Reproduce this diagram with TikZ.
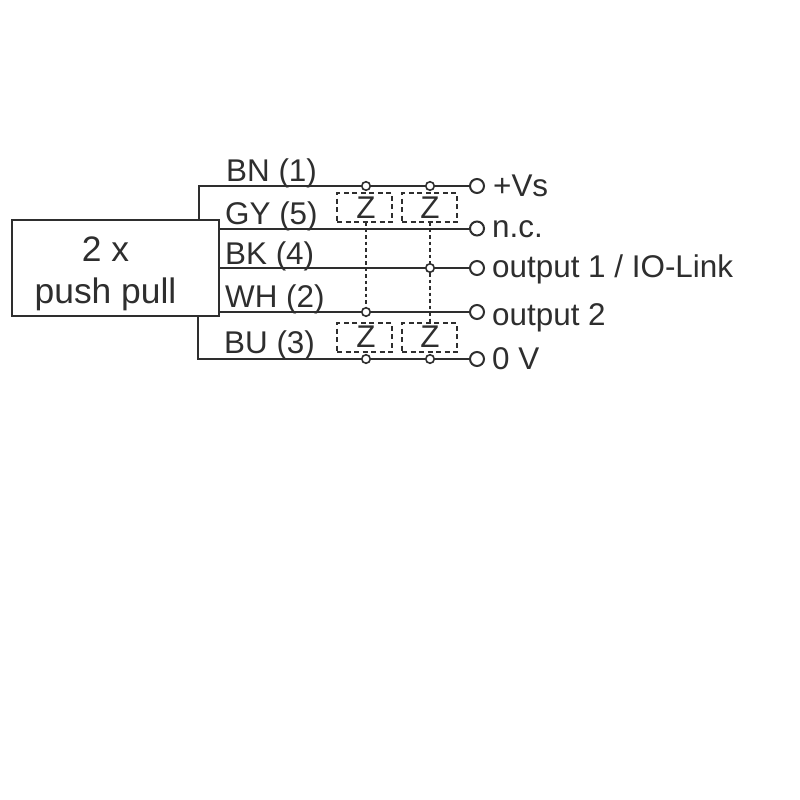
\documentclass[tikz,border=0pt]{standalone}
\usepackage{fontspec}
\setmainfont{Liberation Sans}
\definecolor{ink}{HTML}{2E2E2E}
\tikzset{
  x=1pt,y=-1pt,
  wire/.style={draw=ink,line width=2pt},
  term/.style={circle,draw=ink,line width=2pt,fill=white,minimum size=14pt,inner sep=0pt},
  tap/.style={circle,draw=ink,line width=1.6pt,fill=white,minimum size=8.5pt,inner sep=0pt},
  dotline/.style={draw=ink,line width=1.3pt,dash pattern=on 3.5pt off 3pt},
  zbox/.style={draw=ink,line width=1.3pt,dash pattern=on 5pt off 3.5pt,minimum width=55pt,minimum height=29pt,inner sep=0pt},
  ztext/.style={text=ink,font=\fontsize{31.4}{31.4}\selectfont,inner sep=0pt},
  lab/.style={text=ink,font=\fontsize{31.4}{31.4}\selectfont,inner sep=0pt,anchor=base west},
  sensor/.style={draw=ink,line width=2pt,fill=white,minimum width=207pt,minimum height=96pt,inner sep=0pt},
  boxtext/.style={text=ink,font=\fontsize{35.4}{42}\selectfont,inner sep=0pt,anchor=base}
}
\begin{document}
\begin{tikzpicture}
\useasboundingbox (0,0) rectangle (800,800);
\fill[white] (0,0) rectangle (800,800);
% corner coordinates
\coordinate (bnc) at (199,186);
\coordinate (buc) at (198,359);
% terminals
\node[term] (t1) at (477,186) {};
\node[term] (t2) at (477,228.5) {};
\node[term] (t3) at (477,268) {};
\node[term] (t4) at (477,312) {};
\node[term] (t5) at (477,359) {};
% sensor box
\node[sensor] (s) at (115.5,268) {};
\node[boxtext] (s1) at (105.5,261) {2 x};
\node[boxtext] (s2) at (105.5,303) {push pull};
\coordinate (sGY) at (s.east |- t2);
\coordinate (sBK) at (s.east |- t3);
\coordinate (sWH) at (s.east |- t4);
\coordinate (sBN) at (bnc |- s.north);
\coordinate (sBU) at (buc |- s.south);
% wires
\draw[wire] (sBN) -- (bnc) -- (t1);
\draw[wire] (sGY) -- (t2);
\draw[wire] (sBK) -- (t3);
\draw[wire] (sWH) -- (t4);
\draw[wire] (sBU) -- (buc) -- (t5);
% Z boxes
\node[zbox] (z1) at (364.5,207.5) {};
\node[zbox] (z2) at (429.5,207.5) {};
\node[zbox] (z3) at (364.5,337.5) {};
\node[zbox] (z4) at (429.5,337.5) {};
\node[ztext] (zt1) at (366,208) {Z};
\node[ztext] (zt2) at (430,208) {Z};
\node[ztext] (zt3) at (366,337) {Z};
\node[ztext] (zt4) at (430,337) {Z};
% taps
\node[tap] (a1) at (366,186) {};
\node[tap] (a2) at (430,186) {};
\node[tap] (b2) at (430,268) {};
\node[tap] (c1) at (366,312) {};
\node[tap] (d1) at (366,359) {};
\node[tap] (d2) at (430,359) {};
\draw[dotline] (366,222) -- (c1);
\draw[dotline] (430,222) -- (b2);
\draw[dotline] (b2) -- (430,323);
% wire labels
\node[lab] (l1) at (226,181) {BN (1)};
\node[lab] (l2) at (225,224) {GY (5)};
\node[lab] (l3) at (225,264) {BK (4)};
\node[lab] (l4) at (225,307) {WH (2)};
\node[lab] (l5) at (224,353) {BU (3)};
% terminal labels
\node[lab] (o1) at (493,196) {+Vs};
\node[lab] (o2) at (492,237) {n.c.};
\node[lab] (o3) at (492,277) {output 1 / IO-Link};
\node[lab] (o4) at (492,325) {output 2};
\node[lab] (o5) at (492,369) {0 V};
\end{tikzpicture}
\end{document}
